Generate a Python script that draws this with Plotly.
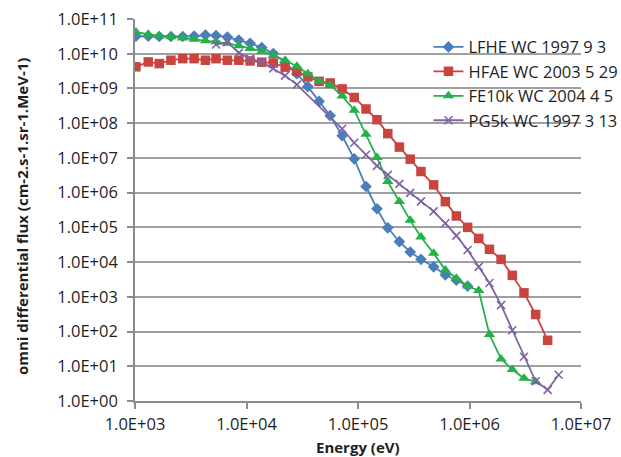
import plotly.graph_objects as go

# Energy grid (eV)
energy = [1.02e3, 1.315e3, 1.65e3, 2.1e3, 2.68e3, 3.39e3, 4.28e3, 5.33e3, 6.74e3, 8.54e3,
          1.077e4, 1.37e4, 1.74e4, 2.22e4, 2.83e4, 3.55e4, 4.48e4, 5.63e4, 7.21e4, 9.25e4,
          1.18e5, 1.48e5, 1.85e5, 2.35e5, 2.94e5, 3.67e5, 4.77e5, 6.07e5, 7.62e5, 9.62e5,
          1.21e6, 1.51e6, 1.92e6, 2.42e6, 3.08e6, 3.92e6, 5.02e6, 6.3e6]

lfhe_energy = energy[:30]
lfhe_flux = [3.19e10, 3.23e10, 3.13e10, 3.13e10, 3.13e10, 3.23e10, 3.45e10, 3.34e10, 3.02e10, 2.48e10,
             2.0e10, 1.5e10, 1.01e10, 5.56e9, 2.67e9, 1.13e9, 4.25e8, 1.64e8, 4.35e7, 9.4e6,
             1.5e6, 3.44e5, 9.7e4, 3.86e4, 1.95e4, 1.2e4, 7.3e3, 4.3e3, 3.0e3, 2.04e3]

hfae_energy = energy[:37]
hfae_flux = [4.2e9, 5.8e9, 5.2e9, 6.5e9, 7.2e9, 7.2e9, 6.5e9, 7.2e9, 6.5e9, 6.5e9,
             6.2e9, 5.7e9, 5.4e9, 4.1e9, 3.1e9, 2.15e9, 1.6e9, 1.44e9, 9.7e8, 5.5e8,
             2.56e8, 1.26e8, 5.0e7, 2.05e7, 9.2e6, 4.05e6, 1.67e6, 5.5e5, 2.13e5, 1.0e5,
             4.8e4, 2.33e4, 1.2e4, 4.15e3, 1.3e3, 3.1e2, 56]

fe10k_energy = energy[:36]
fe10k_flux = [4.19e10, 3.62e10, 3.27e10, 3.1e10, 2.83e10, 2.6e10, 2.38e10, 2.23e10, 1.99e10, 1.7e10,
              1.41e10, 1.18e10, 8.96e9, 6.47e9, 4.34e9, 2.64e9, 1.6e9, 1.26e9, 6.08e8, 2.37e8,
              4.8e7, 1.02e7, 2.08e6, 5.6e5, 1.59e5, 5.28e4, 1.79e4, 5.9e3, 3.4e3, 2.04e3,
              1.51e3, 82, 16.3, 8.1, 4.5, 3.6]

pg5k_energy = energy[7:15] + energy[18:38]
pg5k_flux = [1.84e10, 2.14e10, 1.06e10, 7.24e9, 5.74e9, 3.78e9, 2.34e9, 1.29e9,
             6.9e7, 2.73e7, 1.23e7, 5.9e6, 3.25e6, 1.79e6, 9.8e5, 5.6e5, 2.88e5, 1.31e5,
             5.8e4, 2.23e4, 7.3e3, 2.5e3, 575, 109, 18.8, 3.7, 2.1, 5.7]

series_names = ["LFHE WC 1997 9 3", "HFAE WC 2003 5 29", "FE10k WC 2004 4 5", "PG5k WC 1997 3 13"]

x_tickvals = [1e3, 1e4, 1e5, 1e6, 1e7]
x_ticktext = ["1.0E+03", "1.0E+04", "1.0E+05", "1.0E+06", "1.0E+07"]
y_tickvals = [1e0, 1e1, 1e2, 1e3, 1e4, 1e5, 1e6, 1e7, 1e8, 1e9, 1e10, 1e11]
y_ticktext = ["1.0E+00", "1.0E+01", "1.0E+02", "1.0E+03", "1.0E+04", "1.0E+05",
              "1.0E+06", "1.0E+07", "1.0E+08", "1.0E+09", "1.0E+10", "1.0E+11"]
x_title = "Energy (eV)"
y_title = "omni differential flux (cm-2.s-1.sr-1.MeV-1)"

FONT = "Open Sans, Lato, sans-serif"
TXT = "#1F1F1F"
fig = go.Figure()

fig.add_trace(go.Scatter(x=lfhe_energy, y=lfhe_flux, name=series_names[0], mode="lines+markers",
                         line=dict(color="#4A7EBB", width=1.8),
                         marker=dict(symbol="diamond", size=9, color="#4A7EBB")))
fig.add_trace(go.Scatter(x=hfae_energy, y=hfae_flux, name=series_names[1], mode="lines+markers",
                         line=dict(color="#C9443E", width=1.8),
                         marker=dict(symbol="square", size=9.5, color="#C9443E")))
fig.add_trace(go.Scatter(x=fe10k_energy, y=fe10k_flux, name=series_names[2], mode="lines+markers",
                         line=dict(color="#25B04A", width=1.8),
                         marker=dict(symbol="triangle-up", size=10, color="#25B04A")))
fig.add_trace(go.Scatter(x=pg5k_energy, y=pg5k_flux, name=series_names[3], mode="lines+markers",
                         line=dict(color="#8064A2", width=1.8),
                         marker=dict(symbol="x-thin", size=8, color="#8064A2",
                                     line=dict(color="#8064A2", width=1.6))))

# white patch behind the legend hiding gridlines
fig.add_shape(type="rect", xref="paper", yref="paper", x0=0.61, x1=1.0, y0=0.68, y1=0.985,
              fillcolor="white", line=dict(width=0), layer="between")

# axis titles
fig.add_annotation(text="<b>%s</b>" % x_title, xref="paper", yref="paper", x=0.5, y=0,
                   xanchor="center", yanchor="middle", yshift=-46, showarrow=False,
                   font=dict(family=FONT, size=15, color=TXT))
fig.add_annotation(text="<b>%s</b>" % y_title, xref="paper", yref="paper", x=0, y=0.5,
                   xanchor="center", yanchor="middle", xshift=-113, yshift=-7,
                   textangle=-90, showarrow=False,
                   font=dict(family=FONT, size=15, color=TXT))

fig.update_layout(
    width=621, height=457,
    margin=dict(l=135, r=40, t=19, b=56, autoexpand=False),
    paper_bgcolor="white", plot_bgcolor="white",
    font=dict(family=FONT, size=16.5, color=TXT),
    showlegend=True,
    legend=dict(x=0.658, y=0.972, xanchor="left", yanchor="top",
                bgcolor="rgba(0,0,0,0)", font=dict(size=16.5, color=TXT),
                tracegroupgap=0, itemwidth=30),
    xaxis=dict(type="log", range=[3, 7], tickvals=x_tickvals, ticktext=x_ticktext,
               showgrid=False, showline=True, linecolor="#8C8C8C", linewidth=1.5,
               ticks="outside", ticklen=6, tickcolor="#8C8C8C", tickwidth=1.5,
               ticklabelstandoff=1, zeroline=False, automargin=False),
    yaxis=dict(type="log", range=[0, 11], tickvals=y_tickvals, ticktext=y_ticktext,
               showgrid=True, gridcolor="#A0A0A0", gridwidth=1.6,
               showline=True, linecolor="#8C8C8C", linewidth=1.5,
               ticks="outside", ticklen=6, tickcolor="#8C8C8C", tickwidth=1.5,
               ticklabelstandoff=6, zeroline=False, automargin=False),
)

fig.write_html("out.html")
